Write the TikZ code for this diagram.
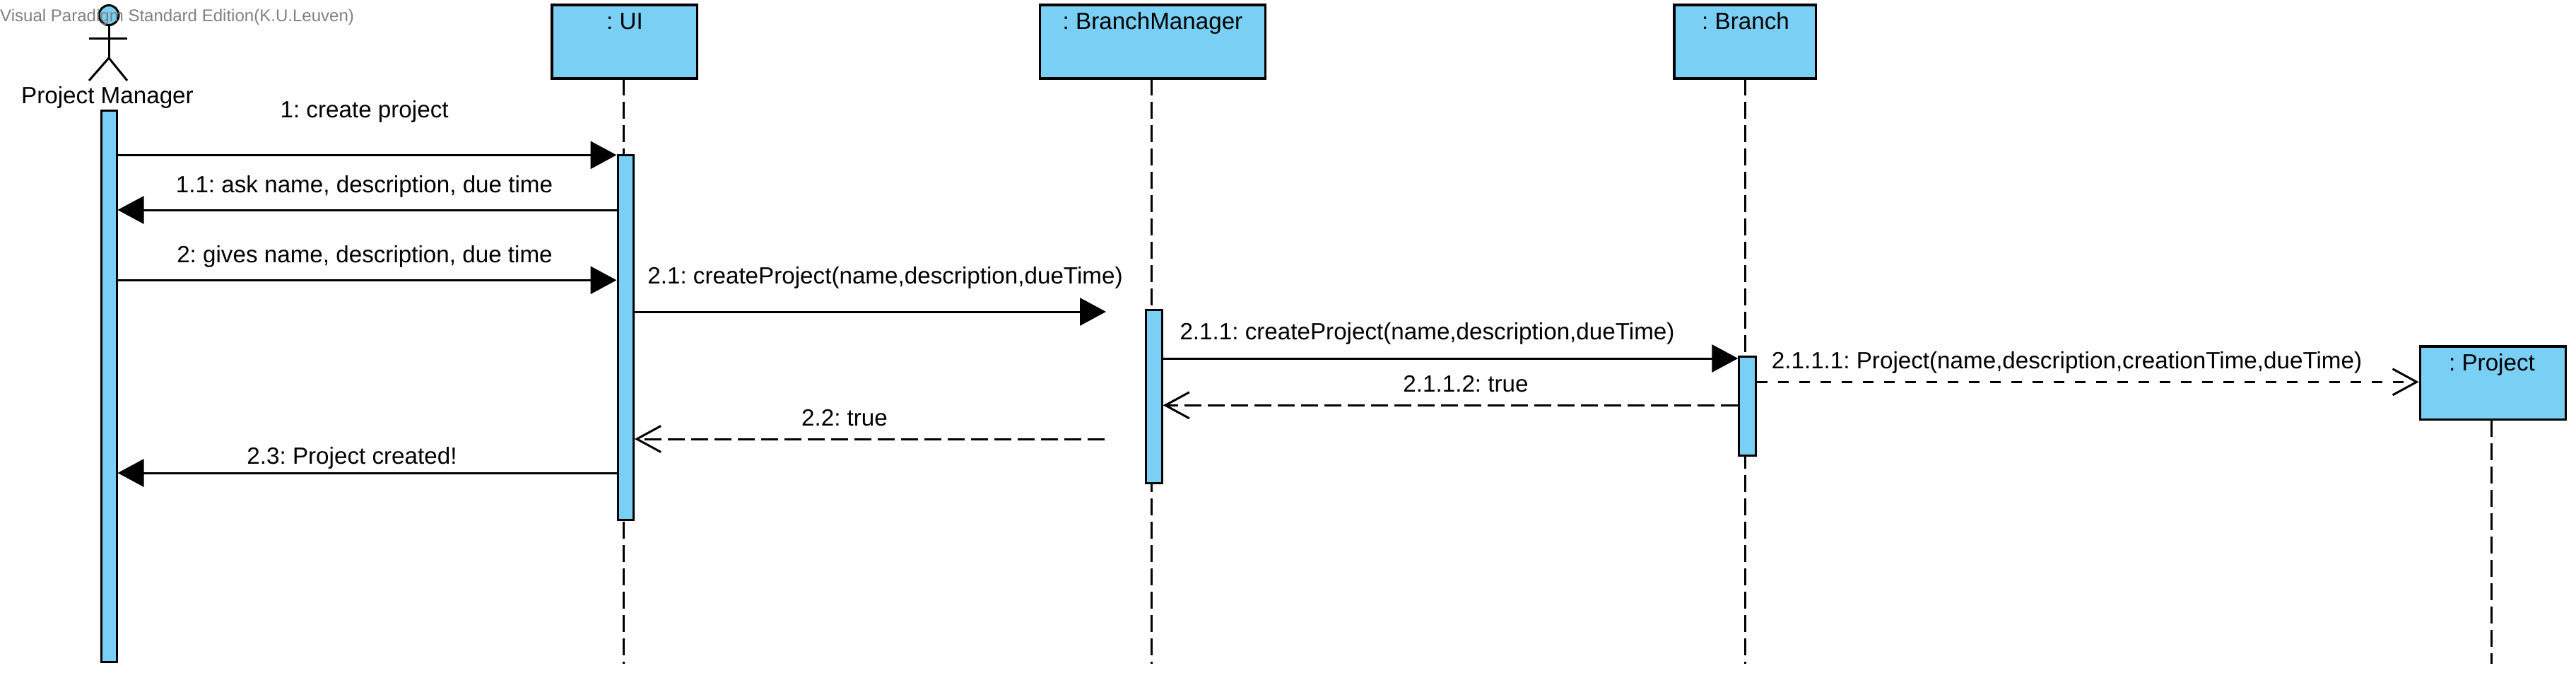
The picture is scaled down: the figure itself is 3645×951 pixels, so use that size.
\documentclass[tikz,border=0pt]{standalone}
\usepackage{fontspec}
\setmainfont{Liberation Sans}
\usetikzlibrary{arrows.meta}
\definecolor{vpblue}{RGB}{122,207,245}
\definecolor{wmgray}{RGB}{128,128,128}
\tikzset{
  x=1pt,y=-1pt,
  objbox/.style={draw=black,fill=vpblue,line width=3.5pt,inner sep=0pt,rectangle},
  actbox/.style={draw=black,fill=vpblue,line width=3pt,inner sep=0pt,rectangle},
  lifeline/.style={line width=3pt,dash pattern=on 24pt off 9pt,dash phase=1.4pt},
  txt/.style={anchor=base,inner sep=0pt,text=black,font=\frenchspacing\fontsize{33.2}{36}\selectfont},
  call/.style={line width=3pt,-{Triangle[length=37pt,width=39pt]}},
  reply/.style={line width=3pt,dash pattern=on 24pt off 9pt,-{Straight Barb[length=34pt,width=37pt,line width=3pt]}},
  create/.style={line width=3pt,dash pattern=on 15pt off 15pt,-{Straight Barb[length=34pt,width=37pt,line width=3pt]}},
  stick/.style={line width=3pt,line cap=butt},
}
\begin{document}
\begin{tikzpicture}
\useasboundingbox (0,0) rectangle (3645,951);
% lifeline ends
\coordinate (uiS) at (882.6,112.7);  \coordinate (uiE) at (882.6,939);
\coordinate (bmS) at (1629.6,112.7); \coordinate (bmE) at (1629.6,939);
\coordinate (brS) at (2469.3,112.7); \coordinate (brE) at (2469.3,939);
\coordinate (prS) at (3525.3,595);   \coordinate (prE) at (3525.3,939);
\draw[lifeline] (uiS) -- (uiE);
\draw[lifeline] (bmS) -- (bmE);
\draw[lifeline] (brS) -- (brE);
\draw[lifeline] (prS) -- (prE);
% object boxes
\node[objbox,minimum width=205.5pt,minimum height=104pt] (ui) at (883.9,59) {};
\node[objbox,minimum width=319pt,minimum height=104pt] (bm) at (1630.8,59) {};
\node[objbox,minimum width=200.5pt,minimum height=104pt] (br) at (2469,59) {};
\node[objbox,minimum width=206pt,minimum height=103.5pt] (pr) at (3527.4,541.5) {};
\node[txt] (uiT) at (884,41.7) {: UI};
\node[txt] (bmT) at (1631,41.7) {: BranchManager};
\node[txt] (brT) at (2470,41.7) {: Branch};
\node[txt] (prT) at (3526,524.3) {: Project};
% actor
\node[circle,draw=black,fill=vpblue,line width=3pt,minimum size=28pt,inner sep=0pt] (head) at (154,21.5) {};
\coordinate (hip) at (154,82);
\coordinate (armL) at (126,54); \coordinate (armR) at (180,54);
\coordinate (legL) at (126,114); \coordinate (legR) at (180,114);
\draw[stick] (head.south) -- (hip);
\draw[stick] (armL) -- (armR);
\draw[stick] (legL) -- (hip) -- (legR);
\node[txt] (pmT) at (152,146) {Project Manager};
% activations
\node[actbox,minimum width=22pt,minimum height=780pt] (pmA) at (154,546.5) {};
\node[actbox,minimum width=22.5pt,minimum height=516pt] (uiA) at (885.25,477.5) {};
\node[actbox,minimum width=23.2pt,minimum height=244.7pt] (bmA) at (1632.6,561.2) {};
\node[actbox,minimum width=23.4pt,minimum height=139.7pt] (brA) at (2472.5,574.6) {};
% message heights
\coordinate (m1) at (0,219.3);
\coordinate (m11) at (0,297);
\coordinate (m2) at (0,396.3);
\coordinate (m21) at (0,441);
\coordinate (m211) at (0,507);
\coordinate (m2111) at (0,540.3);
\coordinate (m2112) at (0,573.3);
\coordinate (m22) at (0,621);
\coordinate (m23) at (0,669);
\coordinate (f21) at (1565,441);
\coordinate (f22) at (1563.4,621);
% messages
\draw[call] (pmA.east |- m1) -- (uiA.west |- m1);
\draw[call] (uiA.west |- m11) -- (pmA.east |- m11);
\draw[call] (pmA.east |- m2) -- (uiA.west |- m2);
\draw[call] (uiA.east |- m21) -- (f21);
\draw[call] (bmA.east |- m211) -- (brA.west |- m211);
\draw[create] (brA.east |- m2111) -- (pr.west |- m2111);
\draw[reply] (brA.west |- m2112) -- (bmA.east |- m2112);
\draw[reply] (f22) -- (uiA.east |- m22);
\draw[call] (uiA.west |- m23) -- (pmA.east |- m23);
% labels
\node[txt] (l1) at (515.6,166.7) {1: create project};
\node[txt] (l11) at (515.5,272.7) {1.1: ask name, description, due time};
\node[txt] (l2) at (516,371.7) {2: gives name, description, due time};
\node[txt] (l21) at (1252.5,401.7) {2.1: createProject(name,description,dueTime)};
\node[txt] (l211) at (2019.5,480) {2.1.1: createProject(name,description,dueTime)};
\node[txt] (l2111) at (2924.5,521) {2.1.1.1: Project(name,description,creationTime,dueTime)};
\node[txt] (l2112) at (2074,554.3) {2.1.1.2: true};
\node[txt] (l22) at (1195,602.3) {2.2: true};
\node[txt] (l23) at (498,656) {2.3: Project created!};
% watermark
\node[anchor=base west,inner sep=0pt,text=wmgray,font=\frenchspacing\fontsize{24.05}{28}\selectfont] (wm) at (0,30) {Visual Paradigm Standard Edition(K.U.Leuven)};
\end{tikzpicture}
\end{document}
